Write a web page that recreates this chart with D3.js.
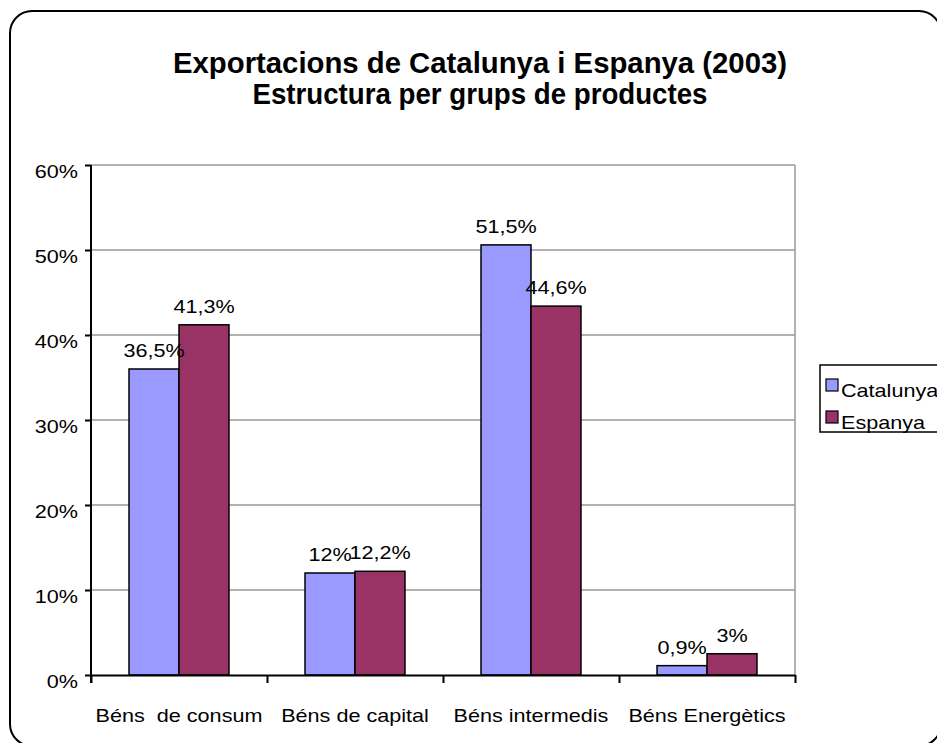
<!DOCTYPE html>
<html>
<head>
<meta charset="utf-8">
<script src="https://cdn.jsdelivr.net/npm/d3@7"></script>
<style>
  html, body { margin: 0; padding: 0; background: #fff; }
  svg { display: block; font-family: "Liberation Sans", Arial, sans-serif; }
</style>
</head>
<body>
<svg id="chart" width="937" height="743"></svg>
<script>
const titleLines = ["Exportacions de Catalunya i Espanya (2003)", "Estructura per grups de productes"];
const categories = ["Béns  de consum", "Béns de capital", "Béns intermedis", "Béns Energètics"];
const seriesNames = ["Catalunya", "Espanya"];
const catalunyaValues = [36.0, 12.0, 50.6, 1.1];
const espanyaValues = [41.2, 12.2, 43.4, 2.5];
const catalunyaLabels = ["36,5%", "12%", "51,5%", "0,9%"];
const espanyaLabels = ["41,3%", "12,2%", "44,6%", "3%"];
const yTicks = [0, 10, 20, 30, 40, 50, 60];
const colors = ["#9999FF", "#993366"];

const SX = 1.2; // horizontal stretch of the small text
const svg = d3.select("#chart");

// outer rounded frame
svg.append("rect")
  .attr("x", 10).attr("y", 11).attr("width", 931).attr("height", 735)
  .attr("rx", 22).attr("ry", 22)
  .attr("fill", "#fff").attr("stroke", "#000").attr("stroke-width", 2);

// title
const titleLen = [614, 455];
svg.append("g").selectAll("text").data(titleLines).join("text")
  .attr("x", 480).attr("y", (d, i) => 73 + i * 31)
  .attr("text-anchor", "middle")
  .attr("font-size", 29).attr("font-weight", "bold")
  .attr("textLength", (d, i) => titleLen[i]).attr("lengthAdjust", "spacingAndGlyphs")
  .text(d => d);

const pLeft = 91, pRight = 795, pTop = 165, pBottom = 675;
const y = d3.scaleLinear().domain([0, 60]).range([pBottom, pTop]);
const x0 = d3.scaleBand().domain(categories).range([pLeft, pRight])
  .paddingInner(0.432).paddingOuter(0.216);
const x1 = d3.scaleBand().domain(seriesNames).range([0, x0.bandwidth()]);
const xb = d3.scaleLinear().domain([0, categories.length]).range([pLeft, pRight]);

// gridlines
svg.append("g").selectAll("line").data(yTicks.filter(d => d > 0)).join("line")
  .attr("x1", pLeft).attr("x2", pRight)
  .attr("y1", d => y(d)).attr("y2", d => y(d))
  .attr("stroke", "#999").attr("stroke-width", 1.5);
// right plot border
svg.append("line").attr("x1", pRight).attr("x2", pRight).attr("y1", pTop).attr("y2", pBottom)
  .attr("stroke", "#999").attr("stroke-width", 1.5);

// bars
const data = categories.map((c, i) => ({
  cat: c,
  vals: [
    {s: seriesNames[0], v: catalunyaValues[i], label: catalunyaLabels[i], color: colors[0]},
    {s: seriesNames[1], v: espanyaValues[i], label: espanyaLabels[i], color: colors[1]}
  ]
}));
const groups = svg.append("g").selectAll("g").data(data).join("g")
  .attr("transform", d => `translate(${x0(d.cat)},0)`);
groups.selectAll("rect").data(d => d.vals).join("rect")
  .attr("x", d => x1(d.s)).attr("width", x1.bandwidth())
  .attr("y", d => y(d.v)).attr("height", d => y(0) - y(d.v))
  .attr("fill", d => d.color).attr("stroke", "#000").attr("stroke-width", 1.5);
groups.selectAll("text").data(d => d.vals).join("text")
  .attr("transform", d => `translate(${x1(d.s) + x1.bandwidth() / 2},${y(d.v) - 12}) scale(${SX},1)`)
  .attr("text-anchor", "middle").attr("font-size", 18)
  .text(d => d.label);

// y axis
const yAxis = svg.append("g").attr("transform", `translate(${pLeft},0)`)
  .call(d3.axisLeft(y).tickValues(yTicks).tickSize(6).tickSizeOuter(0).tickFormat(d => d + "%"));
yAxis.select(".domain").attr("stroke", "#000").attr("stroke-width", 2)
  .attr("d", `M0,${pTop}V${pBottom + 8}`);
yAxis.selectAll(".tick line").attr("stroke", "#000").attr("stroke-width", 2);
yAxis.selectAll(".tick text")
  .attr("font-family", "Liberation Sans, Arial, sans-serif").attr("font-size", 18).attr("fill", "#000")
  .attr("x", -13 / SX).attr("dy", null).attr("y", 12.5)
  .attr("transform", `scale(${SX},1)`);

// x axis boundary ticks
const xTickAxis = svg.append("g").attr("transform", `translate(0,${pBottom})`)
  .call(d3.axisBottom(xb).tickValues(d3.range(categories.length + 1)).tickSize(8).tickSizeOuter(0).tickFormat(""));
xTickAxis.select(".domain").attr("stroke", "#000").attr("stroke-width", 2);
xTickAxis.selectAll(".tick line").attr("stroke", "#000").attr("stroke-width", 2);

// x category labels
const xAxis = svg.append("g").attr("transform", `translate(0,${pBottom})`)
  .call(d3.axisBottom(x0).tickSize(0));
xAxis.select(".domain").remove();
xAxis.selectAll(".tick text")
  .attr("font-family", "Liberation Sans, Arial, sans-serif").attr("font-size", 18).attr("fill", "#000")
  .style("white-space", "pre")
  .attr("y", 47).attr("dy", null)
  .attr("transform", `scale(${SX},1)`);

// legend
const legend = svg.append("g");
legend.append("rect").attr("x", 820).attr("y", 365).attr("width", 130).attr("height", 67)
  .attr("fill", "#fff").attr("stroke", "#000").attr("stroke-width", 1.5);
const items = legend.selectAll("g").data(seriesNames).join("g")
  .attr("transform", (d, i) => `translate(826,${379 + i * 32})`);
items.append("rect").attr("width", 12).attr("height", 12)
  .attr("fill", (d, i) => colors[i]).attr("stroke", "#000").attr("stroke-width", 1.2);
items.append("text").attr("transform", `translate(15,18) scale(${SX},1)`)
  .attr("font-size", 18).text(d => d);
</script>
</body>
</html>
